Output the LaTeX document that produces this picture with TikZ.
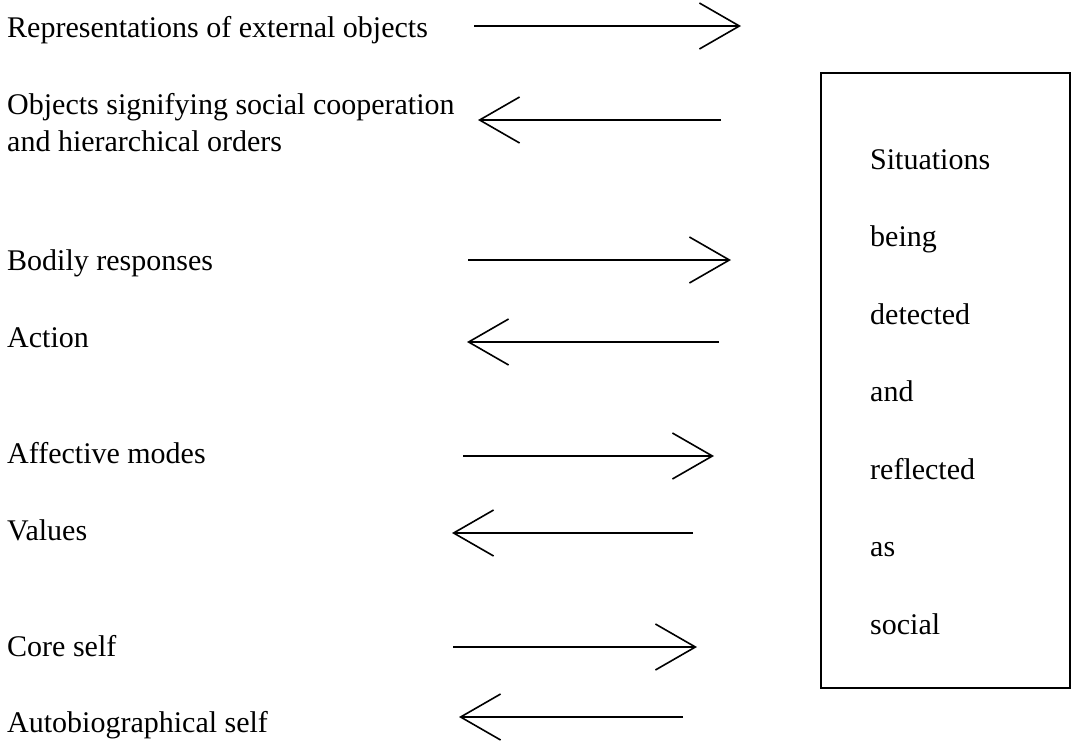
\documentclass[tikz,border=0pt]{standalone}
\usepackage{fontspec}
\setmainfont{Liberation Serif}
\usetikzlibrary{arrows.meta}
\begin{document}
\begin{tikzpicture}[x=1pt,y=-1pt,
  lbl/.style={anchor=base west,inner sep=0pt,font=\fontsize{30}{42}\selectfont},
  conn/.style={line width=1.8pt,-{Straight Barb[length=40pt,width=46pt,line width=1.6pt]}},
  framebox/.style={draw,line width=1.8pt}]
\useasboundingbox (0,0) rectangle (1072,740);
% left labels
\node[lbl] (t1) at (7,37) {Representations of external objects};
\node[lbl] (t2) at (7,114) {Objects signifying social cooperation};
\node[lbl] (t2b) at (7,151) {and hierarchical orders};
\node[lbl] (t3) at (7,270) {Bodily responses};
\node[lbl] (t4) at (7,347) {Action};
\node[lbl] (t5) at (7,463) {Affective modes};
\node[lbl] (t6) at (7,540) {Values};
\node[lbl] (t7) at (7,656) {Core self};
\node[lbl] (t8) at (7,732) {Autobiographical self};
% box
\draw[framebox] (821,73) rectangle (1070,688);
\node[lbl] (w1) at (870,169) {Situations};
\node[lbl] (w2) at (870,246.5) {being};
\node[lbl] (w3) at (870,324) {detected};
\node[lbl] (w4) at (870,401.5) {and};
\node[lbl] (w5) at (870,479) {reflected};
\node[lbl] (w6) at (870,556.5) {as};
\node[lbl] (w7) at (870,634) {social};
% arrow endpoints
\coordinate (a1s) at (474,26);  \coordinate (a1e) at (741,26);
\coordinate (a2s) at (721,120); \coordinate (a2e) at (478,120);
\coordinate (a3s) at (468,260); \coordinate (a3e) at (731,260);
\coordinate (a4s) at (719,342); \coordinate (a4e) at (467,342);
\coordinate (a5s) at (463,456); \coordinate (a5e) at (714,456);
\coordinate (a6s) at (693,533); \coordinate (a6e) at (452,533);
\coordinate (a7s) at (453,647); \coordinate (a7e) at (697,647);
\coordinate (a8s) at (683,717); \coordinate (a8e) at (459,717);
\foreach \i in {1,...,8} \draw[conn] (a\i s) -- (a\i e);
\end{tikzpicture}
\end{document}
